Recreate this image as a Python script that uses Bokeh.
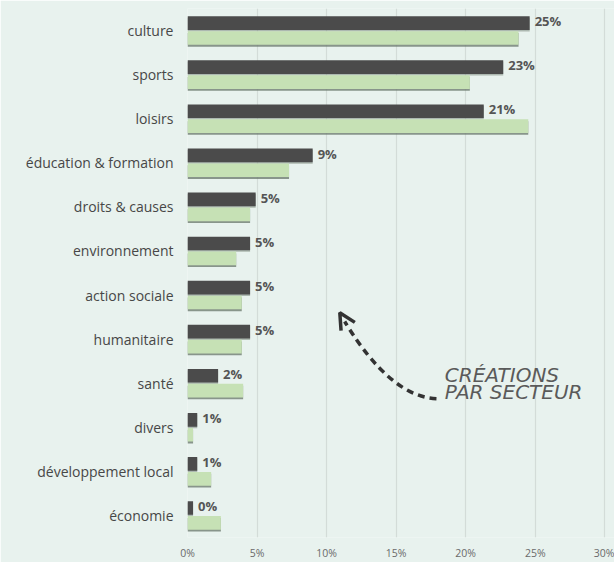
from bokeh.plotting import figure
from bokeh.models import Range1d, FactorRange, ColumnDataSource, Arrow, OpenHead, FixedTicker, CustomJSTickFormatter
from bokeh.transform import dodge
from bokeh.core.properties import value
from bokeh.embed import file_html
from bokeh.resources import INLINE

categories = ["culture", "sports", "loisirs", "éducation & formation", "droits & causes",
              "environnement", "action sociale", "humanitaire", "santé", "divers",
              "développement local", "économie"]
creations = [24.6, 22.7, 21.3, 9.0, 4.9, 4.5, 4.5, 4.5, 2.2, 0.7, 0.7, 0.4]
ensemble = [23.8, 20.3, 24.5, 7.3, 4.5, 3.5, 3.9, 3.9, 4.0, 0.4, 1.7, 2.4]
labels = ["25%", "23%", "21%", "9%", "5%", "5%", "5%", "5%", "2%", "1%", "1%", "0%"]
x_ticks = [0, 5, 10, 15, 20, 25, 30]

BG = "#e8f2ee"
DARK = "#4b4b4b"
GREEN = "#c6e1b5"
SHADOW = "#6f7d72"
FONT = "Open Sans"

src = ColumnDataSource(dict(cat=categories, a=creations, b=ensemble, lab=labels))

p = figure(width=614, height=562, output_backend="svg", toolbar_location=None,
           y_range=FactorRange(factors=list(reversed(categories)), range_padding=0),
           x_range=Range1d(0, 30.7),
           min_border_left=187, min_border_right=0, min_border_top=8, min_border_bottom=0,
           background_fill_color=BG, border_fill_color=BG, outline_line_color=None)

yr = p.y_range
H = 0.31
# shadows
p.hbar(y=dodge("cat", 0.135, range=yr), left=0, right="a", height=H, source=src,
       fill_color=SHADOW, line_color=None, fill_alpha=0.5)
p.hbar(y=dodge("cat", -0.21, range=yr), left=0, right="b", height=H, source=src,
       fill_color=SHADOW, line_color=None, fill_alpha=0.8)
# bars
p.hbar(y=dodge("cat", 0.17, range=yr), left=0, right="a", height=H, source=src,
       fill_color=DARK, line_color=None)
p.hbar(y=dodge("cat", -0.17, range=yr), left=0, right="b", height=H, source=src,
       fill_color=GREEN, line_color=None)
p.text(x="a", y=dodge("cat", 0.21, range=yr), text="lab", source=src, x_offset=5,
       text_font=value(FONT), text_font_size="13px", text_font_style="bold",
       text_color="#555555", text_baseline="middle", text_align="left")

# annotation: curved dashed arrow
p.quadratic(x0=[17.9], y0=[3.15], cx=[14.6], cy=[3.19], x1=[11.3], y1=[4.9],
            line_color="#333333", line_width=3.5, line_dash="7 5")
p.add_layout(Arrow(x_start=11.7, y_start=4.7, x_end=10.95, y_end=5.1,
                   line_alpha=0, line_width=1,
                   end=OpenHead(size=16, line_color="#333333", line_width=3.5)))
p.text(x=[18.5, 18.5], y=[3.69, 3.3], text=["CRÉATIONS", "PAR SECTEUR"],
       text_font=value("DejaVu Sans"), text_font_size="20px", text_font_style="italic",
       text_color="#5a5a5a", text_baseline="alphabetic", text_align="left")

p.xaxis.ticker = FixedTicker(ticks=x_ticks)
p.xaxis.formatter = CustomJSTickFormatter(code="return tick + '%';")
p.xaxis.axis_line_color = None
p.xaxis.major_tick_line_color = None
p.xaxis.minor_tick_line_color = None
p.xaxis.major_tick_out = 0
p.xaxis.major_tick_in = 0
p.xaxis.minor_tick_out = 0
p.xaxis.major_label_text_font = FONT
p.xaxis.major_label_text_font_size = "10.5px"
p.xaxis.major_label_text_color = "#6a6a6a"
p.xaxis.major_label_standoff = 8

p.yaxis.axis_line_color = None
p.yaxis.major_tick_line_color = None
p.yaxis.minor_tick_line_color = None
p.yaxis.major_tick_out = 0
p.yaxis.major_tick_in = 0
p.yaxis.major_label_text_font = FONT
p.yaxis.major_label_text_font_size = "14px"
p.yaxis.major_label_text_color = "#474747"
p.yaxis.major_label_standoff = 14

p.xgrid.grid_line_color = "#d3dcd8"
p.xgrid.grid_line_width = 1.2
p.ygrid.grid_line_color = None

open("out.html", "w").write(file_html(p, INLINE))
